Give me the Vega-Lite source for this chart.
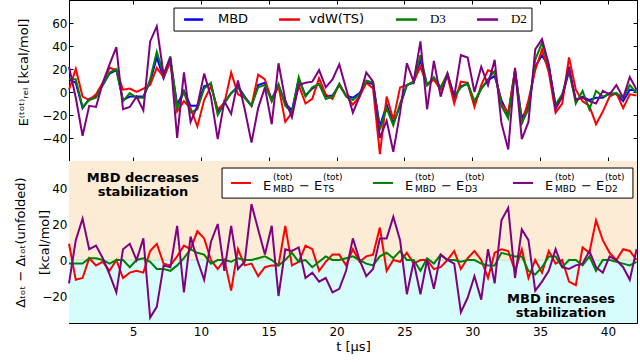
{
  "$schema": "https://vega.github.io/schema/vega-lite/v6.json",
  "autosize": {"type": "none"},
  "padding": {"left": 69, "top": 0, "right": 571, "bottom": 362},
  "background": "white",
  "spacing": 0,
  "bounds": "flush",
  "config": {
    "font": "DejaVu Sans",
    "view": {"stroke": "black", "strokeWidth": 1},
    "axis": {"labelFont": "DejaVu Sans", "titleFont": "DejaVu Sans", "labelFontSize": 12, "titleFontSize": 13, "titleFontWeight": "normal", "labelColor": "black", "titleColor": "black", "tickColor": "black", "domainColor": "black", "domain": true, "grid": false, "tickSize": -4, "zindex": 1}
  },
  "datasets": {
    "one": [{"k": 1}],
    "top": [
      {"t":0.28,"MBD":11,"TS":2,"D3":11,"D2":22},{"t":0.78,"MBD":8,"TS":20,"D3":11,"D2":-5},{"t":1.28,"MBD":-14,"TS":-4,"D3":-13,"D2":-38},{"t":1.77,"MBD":-6,"TS":-7,"D3":-7,"D2":-12},{"t":2.27,"MBD":-4,"TS":-2,"D3":-5,"D2":-13},
      {"t":2.77,"MBD":6,"TS":8,"D3":6,"D2":8},{"t":3.27,"MBD":16,"TS":21,"D3":17,"D2":24},{"t":3.77,"MBD":19,"TS":19,"D3":20,"D2":39},{"t":4.26,"MBD":-7,"TS":2,"D3":-8,"D2":-15},{"t":4.76,"MBD":-4,"TS":3,"D3":-1,"D2":-13},
      {"t":5.26,"MBD":-4,"TS":0,"D3":-5,"D2":-4},{"t":5.76,"MBD":-4,"TS":3,"D3":-5,"D2":-16},{"t":6.26,"MBD":9,"TS":6,"D3":11,"D2":44},{"t":6.75,"MBD":30,"TS":21,"D3":35,"D2":57},{"t":7.25,"MBD":12,"TS":13,"D3":15,"D2":15},
      {"t":7.75,"MBD":28,"TS":26,"D3":31,"D2":30},{"t":8.25,"MBD":-11,"TS":-17,"D3":-14,"D2":-40},{"t":8.75,"MBD":1,"TS":-8,"D3":0,"D2":17},{"t":9.24,"MBD":-12,"TS":-14,"D3":-18,"D2":-26},{"t":9.74,"MBD":-12,"TS":-30,"D3":-15,"D2":-12},
      {"t":10.24,"MBD":5,"TS":-7,"D3":3,"D2":16},{"t":10.74,"MBD":7,"TS":5,"D3":8,"D2":-4},{"t":11.24,"MBD":-17,"TS":-15,"D3":-20,"D2":-41},{"t":11.73,"MBD":-9,"TS":-10,"D3":-10,"D2":-8},{"t":12.23,"MBD":-1,"TS":17,"D3":-1,"D2":-19},
      {"t":12.73,"MBD":5,"TS":-2,"D3":4,"D2":10},{"t":13.23,"MBD":-4,"TS":-5,"D3":-5,"D2":-15},{"t":13.73,"MBD":-12,"TS":-12,"D3":-12,"D2":-44},{"t":14.22,"MBD":6,"TS":15,"D3":4,"D2":-14},{"t":14.72,"MBD":8,"TS":11,"D3":6,"D2":4},
      {"t":15.22,"MBD":-6,"TS":-8,"D3":-8,"D2":-28},{"t":15.72,"MBD":6,"TS":5,"D3":7,"D2":25},{"t":16.22,"MBD":-10,"TS":-26,"D3":-12,"D2":-7},{"t":16.71,"MBD":-16,"TS":-18,"D3":-18,"D2":-22},{"t":17.21,"MBD":11,"TS":6,"D3":13,"D2":6},
      {"t":17.71,"MBD":-3,"TS":-10,"D3":-4,"D2":8},{"t":18.21,"MBD":3,"TS":-6,"D3":4,"D2":9},{"t":18.71,"MBD":7,"TS":12,"D3":7,"D2":19},{"t":19.2,"MBD":-4,"TS":-2,"D3":-6,"D2":4},{"t":19.7,"MBD":-3,"TS":-6,"D3":-4,"D2":11},
      {"t":20.2,"MBD":6,"TS":7,"D3":7,"D2":24},{"t":20.7,"MBD":-3,"TS":-3,"D3":-4,"D2":3},{"t":21.2,"MBD":-5,"TS":-11,"D3":-7,"D2":-18},{"t":21.69,"MBD":-1,"TS":-4,"D3":-2,"D2":-4},{"t":22.19,"MBD":8,"TS":8,"D3":10,"D2":17},
      {"t":22.69,"MBD":7,"TS":3,"D3":8,"D2":9},{"t":23.19,"MBD":-30,"TS":-54,"D3":-33,"D2":-40},{"t":23.69,"MBD":-11,"TS":-4,"D3":-14,"D2":-25},{"t":24.18,"MBD":-27,"TS":-24,"D3":-29,"D2":-52},{"t":24.68,"MBD":-12,"TS":4,"D3":-10,"D2":-18},
      {"t":25.18,"MBD":6,"TS":6,"D3":6,"D2":25},{"t":25.68,"MBD":8,"TS":9,"D3":9,"D2":9},{"t":26.18,"MBD":28,"TS":22,"D3":32,"D2":44},{"t":26.67,"MBD":6,"TS":6,"D3":6,"D2":-15},{"t":27.17,"MBD":11,"TS":11,"D3":13,"D2":27},
      {"t":27.67,"MBD":3,"TS":2,"D3":4,"D2":-4},{"t":28.17,"MBD":15,"TS":14,"D3":16,"D2":16},{"t":28.67,"MBD":-5,"TS":-10,"D3":-4,"D2":-4},{"t":29.16,"MBD":5,"TS":9,"D3":4,"D2":32},{"t":29.66,"MBD":7,"TS":8,"D3":8,"D2":30},
      {"t":30.16,"MBD":-10,"TS":-13,"D3":-8,"D2":0},{"t":30.66,"MBD":3,"TS":6,"D3":3,"D2":22},{"t":31.16,"MBD":10,"TS":19,"D3":11,"D2":6},{"t":31.65,"MBD":14,"TS":17,"D3":18,"D2":28},{"t":32.15,"MBD":-7,"TS":-10,"D3":-12,"D2":-27},
      {"t":32.65,"MBD":-20,"TS":-18,"D3":-23,"D2":-50},{"t":33.15,"MBD":19,"TS":19,"D3":18,"D2":21},{"t":33.65,"MBD":-23,"TS":-28,"D3":-27,"D2":-41},{"t":34.14,"MBD":-12,"TS":-7,"D3":-15,"D2":-26},{"t":34.64,"MBD":22,"TS":19,"D3":28,"D2":37},
      {"t":35.14,"MBD":32,"TS":37,"D3":43,"D2":46},{"t":35.64,"MBD":22,"TS":17,"D3":22,"D2":24},{"t":36.14,"MBD":-12,"TS":-18,"D3":-11,"D2":-15},{"t":36.63,"MBD":-4,"TS":-10,"D3":-2,"D2":-4},{"t":37.13,"MBD":18,"TS":30,"D3":19,"D2":22},
      {"t":37.63,"MBD":-7,"TS":2,"D3":-10,"D2":-7},{"t":38.13,"MBD":-4,"TS":-8,"D3":1,"D2":-5},{"t":38.63,"MBD":-7,"TS":-12,"D3":-15,"D2":-8},{"t":39.12,"MBD":-5,"TS":-28,"D3":1,"D2":-10},{"t":39.62,"MBD":-5,"TS":-17,"D3":-4,"D2":1},
      {"t":40.12,"MBD":-1,"TS":-4,"D3":-2,"D2":-2},{"t":40.62,"MBD":-2,"TS":-1,"D3":-1,"D2":6},{"t":41.12,"MBD":-8,"TS":-14,"D3":-5,"D2":-5},{"t":41.61,"MBD":2,"TS":-2,"D3":6,"D2":13},{"t":42.11,"MBD":1,"TS":-3,"D3":-1,"D2":2}
    ],
    "bot": [
      {"t":0.28,"TS":9,"D3":-2,"D2":-13},{"t":0.78,"TS":-11,"D3":-2,"D2":11},{"t":1.28,"TS":-10,"D3":-2,"D2":23},{"t":1.77,"TS":1,"D3":1,"D2":6},{"t":2.27,"TS":-3,"D3":1,"D2":8},
      {"t":2.77,"TS":-1,"D3":0,"D2":1},{"t":3.27,"TS":-6,"D3":-2,"D2":-8},{"t":3.77,"TS":0,"D3":0,"D2":-18},{"t":4.26,"TS":-10,"D3":0,"D2":6},{"t":4.76,"TS":-7,"D3":-4,"D2":9},
      {"t":5.26,"TS":-6,"D3":0,"D2":0},{"t":5.76,"TS":-7,"D3":1,"D2":12},{"t":6.26,"TS":5,"D3":-1,"D2":-32},{"t":6.75,"TS":9,"D3":-5,"D2":-26},{"t":7.25,"TS":-2,"D3":-5,"D2":-3},
      {"t":7.75,"TS":-3,"D3":-6,"D2":-4},{"t":8.25,"TS":2,"D3":-3,"D2":19},{"t":8.75,"TS":8,"D3":1,"D2":-18},{"t":9.24,"TS":6,"D3":6,"D2":13},{"t":9.74,"TS":16,"D3":4,"D2":0},
      {"t":10.24,"TS":12,"D3":3,"D2":-11},{"t":10.74,"TS":0,"D3":-2,"D2":10},{"t":11.24,"TS":-5,"D3":0,"D2":20},{"t":11.73,"TS":0,"D3":0,"D2":-6},{"t":12.23,"TS":-17,"D3":-1,"D2":19},
      {"t":12.73,"TS":6,"D3":1,"D2":-5},{"t":13.23,"TS":-3,"D3":0,"D2":-1},{"t":13.73,"TS":-2,"D3":0,"D2":31},{"t":14.22,"TS":-9,"D3":1,"D2":17},{"t":14.72,"TS":-4,"D3":2,"D2":3},
      {"t":15.22,"TS":-3,"D3":0,"D2":19},{"t":15.72,"TS":-3,"D3":-3,"D2":-20},{"t":16.22,"TS":19,"D3":0,"D2":6},{"t":16.71,"TS":-3,"D3":4,"D2":5},{"t":17.21,"TS":-1,"D3":-1,"D2":7},
      {"t":17.71,"TS":8,"D3":0,"D2":-10},{"t":18.21,"TS":6,"D3":-4,"D2":-7},{"t":18.71,"TS":-6,"D3":-1,"D2":-12},{"t":19.2,"TS":-1,"D3":2,"D2":-10},{"t":19.7,"TS":3,"D3":0,"D2":-18},
      {"t":20.2,"TS":3,"D3":0,"D2":-16},{"t":20.7,"TS":-3,"D3":1,"D2":-6},{"t":21.2,"TS":6,"D3":2,"D2":12},{"t":21.69,"TS":-1,"D3":0,"D2":0},{"t":22.19,"TS":2,"D3":-2,"D2":-9},
      {"t":22.69,"TS":3,"D3":-3,"D2":-5},{"t":23.19,"TS":18,"D3":2,"D2":12},{"t":23.69,"TS":-6,"D3":4,"D2":12},{"t":24.18,"TS":0,"D3":1,"D2":24},{"t":24.68,"TS":-1,"D3":5,"D2":11},
      {"t":25.18,"TS":4,"D3":0,"D2":-19},{"t":25.68,"TS":-2,"D3":0,"D2":-1},{"t":26.18,"TS":0,"D3":-6,"D2":-19},{"t":26.67,"TS":0,"D3":1,"D2":0},{"t":27.17,"TS":-5,"D3":-2,"D2":-16},
      {"t":27.67,"TS":-4,"D3":3,"D2":3},{"t":28.17,"TS":0,"D3":0,"D2":0},{"t":28.67,"TS":5,"D3":0,"D2":-2},{"t":29.16,"TS":-5,"D3":-1,"D2":-29},{"t":29.66,"TS":1,"D3":0,"D2":-21},
      {"t":30.16,"TS":5,"D3":0,"D2":-9},{"t":30.66,"TS":0,"D3":-2,"D2":-22},{"t":31.16,"TS":-10,"D3":-3,"D2":6},{"t":31.65,"TS":4,"D3":-3,"D2":-13},{"t":32.15,"TS":6,"D3":4,"D2":22},
      {"t":32.65,"TS":5,"D3":3,"D2":29},{"t":33.15,"TS":-6,"D3":2,"D2":-10},{"t":33.65,"TS":6,"D3":2,"D2":17},{"t":34.14,"TS":-10,"D3":-6,"D2":11},{"t":34.64,"TS":0,"D3":-8,"D2":-17},
      {"t":35.14,"TS":-7,"D3":-4,"D2":-12},{"t":35.64,"TS":5,"D3":2,"D2":-6},{"t":36.14,"TS":-2,"D3":2,"D2":6},{"t":36.63,"TS":0,"D3":-4,"D2":-4},{"t":37.13,"TS":-12,"D3":0,"D2":-5},
      {"t":37.63,"TS":-14,"D3":0,"D2":-3},{"t":38.13,"TS":7,"D3":-3,"D2":-2},{"t":38.63,"TS":4,"D3":2,"D2":5},{"t":39.12,"TS":22,"D3":-6,"D2":-4},{"t":39.62,"TS":11,"D3":0,"D2":-7},
      {"t":40.12,"TS":4,"D3":0,"D2":2},{"t":40.62,"TS":0,"D3":-1,"D2":0},{"t":41.12,"TS":6,"D3":-2,"D2":-4},{"t":41.61,"TS":5,"D3":-3,"D2":-11},{"t":42.11,"TS":0,"D3":-1,"D2":6}
    ]
  },
  "vconcat": [
    {
      "width": 568,
      "height": 161,
      "data": {"name": "top"},
      "resolve": {"axis": {"x": "independent", "y": "independent"}},
      "layer": [
        {
          "mark": {"type": "line", "strokeWidth": 2, "color": "#0000ff"},
          "encoding": {
            "x": {"field": "t", "type": "quantitative", "scale": {"domain": [0.28, 42.14], "nice": false, "zero": false},
                  "axis": {"orient": "bottom", "values": [5,10,15,20,25,30,35,40], "labels": false, "title": null}},
            "y": {"field": "MBD", "type": "quantitative", "scale": {"domain": [-60, 80], "nice": false, "zero": false},
                  "axis": {"orient": "left", "values": [-40,-20,0,20,40,60], "labelPadding": 6, "title": "E⁽ᵗᵒᵗ⁾ᵣₑₗ [kcal/mol]", "titleX": -46, "titleY": 72, "titleAngle": -90, "titleAlign": "center", "titleBaseline": "middle"}}
          }
        },
        {
          "mark": {"type": "line", "strokeWidth": 2, "color": "#ff0000"},
          "encoding": {
            "x": {"field": "t", "type": "quantitative", "axis": {"orient": "top", "values": [5,10,15,20,25,30,35,40], "labels": false, "title": null}},
            "y": {"field": "TS", "type": "quantitative", "axis": {"orient": "right", "values": [-40,-20,0,20,40,60], "labels": false, "title": null}}
          }
        },
        {
          "mark": {"type": "line", "strokeWidth": 2, "color": "#008000"},
          "encoding": {
            "x": {"field": "t", "type": "quantitative", "axis": null},
            "y": {"field": "D3", "type": "quantitative", "axis": null}
          }
        },
        {
          "mark": {"type": "line", "strokeWidth": 2, "color": "#800080"},
          "encoding": {
            "x": {"field": "t", "type": "quantitative", "axis": null},
            "y": {"field": "D2", "type": "quantitative", "axis": null}
          }
        },
        {
          "data": {"name": "one"},
          "mark": {"type": "rect", "fill": "white", "stroke": "black", "strokeWidth": 1},
          "encoding": {"x": {"datum": 8.02, "type": "quantitative", "axis": null}, "x2": {"datum": 34.4}, "y": {"datum": 73.0, "type": "quantitative", "axis": null}, "y2": {"datum": 53.0}}
        },
        {
          "data": {"name": "one"},
          "mark": {"type": "rule", "color": "#0000ff", "strokeWidth": 2.5},
          "encoding": {"x": {"datum": 8.76, "type": "quantitative", "axis": null}, "x2": {"datum": 10.16}, "y": {"datum": 63.0, "type": "quantitative", "axis": null}}
        },
        {
          "data": {"name": "one"},
          "mark": {"type": "rule", "color": "#ff0000", "strokeWidth": 2.5},
          "encoding": {"x": {"datum": 15.76, "type": "quantitative", "axis": null}, "x2": {"datum": 17.3}, "y": {"datum": 63.0, "type": "quantitative", "axis": null}}
        },
        {
          "data": {"name": "one"},
          "mark": {"type": "rule", "color": "#008000", "strokeWidth": 2.5},
          "encoding": {"x": {"datum": 24.38, "type": "quantitative", "axis": null}, "x2": {"datum": 25.93}, "y": {"datum": 63.0, "type": "quantitative", "axis": null}}
        },
        {
          "data": {"name": "one"},
          "mark": {"type": "rule", "color": "#800080", "strokeWidth": 2.5},
          "encoding": {"x": {"datum": 30.35, "type": "quantitative", "axis": null}, "x2": {"datum": 31.9}, "y": {"datum": 63.0, "type": "quantitative", "axis": null}}
        },
        {
          "data": {"name": "one"},
          "mark": {"type": "text", "text": "MBD", "fontSize": 13, "align": "left", "baseline": "alphabetic", "color": "black"},
          "encoding": {"x": {"datum": 11.26, "type": "quantitative", "axis": null}, "y": {"datum": 60.4, "type": "quantitative", "axis": null}}
        },
        {
          "data": {"name": "one"},
          "mark": {"type": "text", "text": "vdW(TS)", "fontSize": 13, "align": "left", "baseline": "alphabetic", "color": "black"},
          "encoding": {"x": {"datum": 17.97, "type": "quantitative", "axis": null}, "y": {"datum": 60.4, "type": "quantitative", "axis": null}}
        },
        {
          "data": {"name": "one"},
          "mark": {"type": "text", "text": "D3", "fontSize": 13, "font": "Liberation Serif", "align": "left", "baseline": "alphabetic", "color": "black"},
          "encoding": {"x": {"datum": 26.88, "type": "quantitative", "axis": null}, "y": {"datum": 60.4, "type": "quantitative", "axis": null}}
        },
        {
          "data": {"name": "one"},
          "mark": {"type": "text", "text": "D2", "fontSize": 13, "font": "Liberation Serif", "align": "left", "baseline": "alphabetic", "color": "black"},
          "encoding": {"x": {"datum": 32.85, "type": "quantitative", "axis": null}, "y": {"datum": 60.4, "type": "quantitative", "axis": null}}
        }
      ]
    },
    {
      "width": 568,
      "height": 162,
      "data": {"name": "bot"},
      "resolve": {"axis": {"x": "independent", "y": "independent"}},
      "layer": [
        {
          "data": {"name": "one"},
          "mark": {"type": "rect", "color": "#FCEBD5"},
          "encoding": {
            "x": {"datum": 0.28, "type": "quantitative", "scale": {"domain": [0.28, 42.14], "nice": false, "zero": false},
                  "axis": {"orient": "bottom", "values": [5,10,15,20,25,30,35,40], "labelPadding": 7, "title": "t [μs]", "titlePadding": 3}},
            "x2": {"datum": 42.14},
            "y": {"datum": 0, "type": "quantitative", "scale": {"domain": [-35, 55], "nice": false, "zero": false},
                  "axis": {"orient": "left", "values": [-20,0,20,40], "labelPadding": 6, "title": ["Δₜₒₜ − Δₜₒₜ(unfolded)", "[kcal/mol]"], "titleLineHeight": 24, "titleX": -49, "titleY": 81, "titleAngle": -90, "titleAlign": "center", "titleBaseline": "middle"}},
            "y2": {"datum": 55}
          }
        },
        {
          "data": {"name": "one"},
          "mark": {"type": "rect", "color": "#D6FCFC"},
          "encoding": {
            "x": {"datum": 0.28, "type": "quantitative", "axis": {"orient": "top", "values": [5,10,15,20,25,30,35,40], "labels": false, "title": null}},
            "x2": {"datum": 42.14},
            "y": {"datum": -35, "type": "quantitative", "axis": {"orient": "right", "values": [-20,0,20,40], "labels": false, "title": null}},
            "y2": {"datum": 0}
          }
        },
        {
          "data": {"name": "one"},
          "mark": {"type": "rule", "color": "#c6eec6", "strokeWidth": 1.5},
          "encoding": {"y": {"datum": 0, "type": "quantitative", "axis": null}}
        },
        {
          "mark": {"type": "line", "strokeWidth": 2, "color": "#ff0000"},
          "encoding": {"x": {"field": "t", "type": "quantitative", "axis": null}, "y": {"field": "TS", "type": "quantitative", "axis": null}}
        },
        {
          "mark": {"type": "line", "strokeWidth": 2, "color": "#008000"},
          "encoding": {"x": {"field": "t", "type": "quantitative", "axis": null}, "y": {"field": "D3", "type": "quantitative", "axis": null}}
        },
        {
          "mark": {"type": "line", "strokeWidth": 2, "color": "#800080"},
          "encoding": {"x": {"field": "t", "type": "quantitative", "axis": null}, "y": {"field": "D2", "type": "quantitative", "axis": null}}
        },
        {
          "data": {"name": "one"},
          "mark": {"type": "text", "text": ["MBD decreases", "stabilization"], "fontWeight": "bold", "fontSize": 13, "lineHeight": 14, "align": "center", "baseline": "alphabetic", "color": "black"},
          "encoding": {"x": {"datum": 5.73, "type": "quantitative", "axis": null}, "y": {"datum": 43.6, "type": "quantitative", "axis": null}}
        },
        {
          "data": {"name": "one"},
          "mark": {"type": "text", "text": ["MBD increases", "stabilization"], "fontWeight": "bold", "fontSize": 13, "lineHeight": 14, "align": "center", "baseline": "alphabetic", "color": "black"},
          "encoding": {"x": {"datum": 36.54, "type": "quantitative", "axis": null}, "y": {"datum": -23.9, "type": "quantitative", "axis": null}}
        },
        {
          "data": {"name": "one"},
          "mark": {"type": "rect", "fill": "white", "stroke": "black", "strokeWidth": 1},
          "encoding": {"x": {"datum": 11.56, "type": "quantitative", "axis": null}, "x2": {"datum": 41.84}, "y": {"datum": 51.1, "type": "quantitative", "axis": null}, "y2": {"datum": 34.4}}
        },
        {
          "data": {"name": "one"},
          "mark": {"type": "rule", "color": "#ff0000", "strokeWidth": 2},
          "encoding": {"x": {"datum": 12.22, "type": "quantitative", "axis": null}, "x2": {"datum": 13.69}, "y": {"datum": 42.8, "type": "quantitative", "axis": null}}
        },
        {
          "data": {"name": "one"},
          "mark": {"type": "rule", "color": "#008000", "strokeWidth": 2},
          "encoding": {"x": {"datum": 22.68, "type": "quantitative", "axis": null}, "x2": {"datum": 24.16}, "y": {"datum": 42.8, "type": "quantitative", "axis": null}}
        },
        {
          "data": {"name": "one"},
          "mark": {"type": "rule", "color": "#800080", "strokeWidth": 2},
          "encoding": {"x": {"datum": 33.0, "type": "quantitative", "axis": null}, "x2": {"datum": 34.48}, "y": {"datum": 42.8, "type": "quantitative", "axis": null}}
        },
        {
          "data": {"name": "one"},
          "mark": {"type": "text", "text": "E", "fontSize": 13, "align": "left", "baseline": "alphabetic", "color": "black"},
          "encoding": {"x": {"datum": 14.58, "type": "quantitative", "axis": null}, "y": {"datum": 38.9, "type": "quantitative", "axis": null}}
        },
        {
          "data": {"name": "one"},
          "mark": {"type": "text", "text": ["(tot)", "MBD"], "fontSize": 9, "lineHeight": 12, "align": "left", "baseline": "alphabetic", "color": "black"},
          "encoding": {"x": {"datum": 15.31, "type": "quantitative", "axis": null}, "y": {"datum": 44.4, "type": "quantitative", "axis": null}}
        },
        {
          "data": {"name": "one"},
          "mark": {"type": "text", "text": "− E", "fontSize": 13, "align": "left", "baseline": "alphabetic", "color": "black"},
          "encoding": {"x": {"datum": 17.23, "type": "quantitative", "axis": null}, "y": {"datum": 38.9, "type": "quantitative", "axis": null}}
        },
        {
          "data": {"name": "one"},
          "mark": {"type": "text", "text": ["(tot)", "TS"], "fontSize": 9, "lineHeight": 12, "align": "left", "baseline": "alphabetic", "color": "black"},
          "encoding": {"x": {"datum": 19.0, "type": "quantitative", "axis": null}, "y": {"datum": 44.4, "type": "quantitative", "axis": null}}
        },
        {
          "data": {"name": "one"},
          "mark": {"type": "text", "text": "E", "fontSize": 13, "align": "left", "baseline": "alphabetic", "color": "black"},
          "encoding": {"x": {"datum": 25.04, "type": "quantitative", "axis": null}, "y": {"datum": 38.9, "type": "quantitative", "axis": null}}
        },
        {
          "data": {"name": "one"},
          "mark": {"type": "text", "text": ["(tot)", "MBD"], "fontSize": 9, "lineHeight": 12, "align": "left", "baseline": "alphabetic", "color": "black"},
          "encoding": {"x": {"datum": 25.78, "type": "quantitative", "axis": null}, "y": {"datum": 44.4, "type": "quantitative", "axis": null}}
        },
        {
          "data": {"name": "one"},
          "mark": {"type": "text", "text": "− E", "fontSize": 13, "align": "left", "baseline": "alphabetic", "color": "black"},
          "encoding": {"x": {"datum": 27.7, "type": "quantitative", "axis": null}, "y": {"datum": 38.9, "type": "quantitative", "axis": null}}
        },
        {
          "data": {"name": "one"},
          "mark": {"type": "text", "text": ["(tot)", "D3"], "fontSize": 9, "lineHeight": 12, "align": "left", "baseline": "alphabetic", "color": "black"},
          "encoding": {"x": {"datum": 29.46, "type": "quantitative", "axis": null}, "y": {"datum": 44.4, "type": "quantitative", "axis": null}}
        },
        {
          "data": {"name": "one"},
          "mark": {"type": "text", "text": "E", "fontSize": 13, "align": "left", "baseline": "alphabetic", "color": "black"},
          "encoding": {"x": {"datum": 35.36, "type": "quantitative", "axis": null}, "y": {"datum": 38.9, "type": "quantitative", "axis": null}}
        },
        {
          "data": {"name": "one"},
          "mark": {"type": "text", "text": ["(tot)", "MBD"], "fontSize": 9, "lineHeight": 12, "align": "left", "baseline": "alphabetic", "color": "black"},
          "encoding": {"x": {"datum": 36.1, "type": "quantitative", "axis": null}, "y": {"datum": 44.4, "type": "quantitative", "axis": null}}
        },
        {
          "data": {"name": "one"},
          "mark": {"type": "text", "text": "− E", "fontSize": 13, "align": "left", "baseline": "alphabetic", "color": "black"},
          "encoding": {"x": {"datum": 38.01, "type": "quantitative", "axis": null}, "y": {"datum": 38.9, "type": "quantitative", "axis": null}}
        },
        {
          "data": {"name": "one"},
          "mark": {"type": "text", "text": ["(tot)", "D2"], "fontSize": 9, "lineHeight": 12, "align": "left", "baseline": "alphabetic", "color": "black"},
          "encoding": {"x": {"datum": 39.78, "type": "quantitative", "axis": null}, "y": {"datum": 44.4, "type": "quantitative", "axis": null}}
        }
      ]
    }
  ]
}
